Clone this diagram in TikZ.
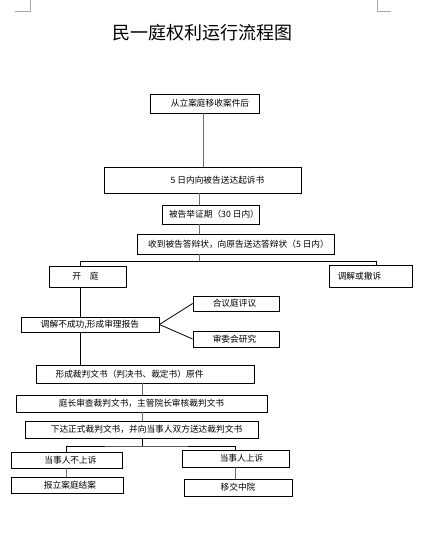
\documentclass[tikz,border=0pt]{standalone}
\usepackage{fontspec}
\newfontfamily\cjk{Noto Sans CJK SC}
\begin{document}
\begin{tikzpicture}[x=1pt,y=1pt,
  box/.style={draw=black, line width=0.8pt, inner sep=0pt, font=\cjk\fontsize{8.7}{10}\selectfont},
  link/.style={draw=black, line width=0.8pt},
  glink/.style={draw=gray!85!black, line width=0.9pt},
  mark/.style={draw=gray!70, line width=0.6pt}]
\useasboundingbox (0,0) rectangle (441,-538);
% corner marks
\draw[gray!70, line width=0.6pt] (15,-11) -- (30,-11) -- (30,0);
\draw[gray!70, line width=0.6pt] (377,0) -- (377,-11) -- (391,-11);
% title
\node[font=\cjk\fontsize{18}{20}\selectfont, inner sep=0pt] (title) at (202.5,-33) {民一庭权利运行流程图};
% boxes
\node[box, minimum width=109pt, minimum height=19pt] (b1) at (204.5,-103.5) {\hspace*{11pt}从立案庭移收案件后};
\node[box, minimum width=197pt, minimum height=26pt] (b2) at (202.5,-180) {\hspace*{30pt}5 日内向被告送达起诉书};
\node[box, minimum width=97pt, minimum height=19pt] (b3) at (210.5,-214.5) {\hspace*{7pt}被告举证期（30 日内）};
\node[box, minimum width=197pt, minimum height=20pt] (b4) at (235.5,-244) {\hspace*{6pt}收到被告答辩状，向原告送达答辩状（5 日内）};
\node[box, minimum width=77pt, minimum height=21pt] (kt) at (87.5,-276.5) {开\hspace{9pt}庭\hspace*{4pt}};
\node[box, minimum width=83pt, minimum height=22pt] (cs) at (370.5,-276) {调解或撤诉\hspace*{22pt}};
\node[box, minimum width=138pt, minimum height=15pt] (tj) at (90,-324.5) {调解不成功,形成审理报告};
\node[box, minimum width=86pt, minimum height=15pt] (hy) at (236,-303.5) {合议庭评议\hspace*{3pt}};
\node[box, minimum width=86pt, minimum height=16pt] (sw) at (236,-339) {审委会研究\hspace*{3pt}};
\node[box, minimum width=218pt, minimum height=18pt] (xc) at (145,-374) {形成裁判文书（判决书、裁定书）原件\hspace*{31pt}};
\node[box, minimum width=251pt, minimum height=17pt] (tz) at (141.5,-403.5) {庭长审查裁判文书，主管院长审核裁判文书};
\node[box, minimum width=233pt, minimum height=17pt] (xd) at (141.5,-429.5) {\hspace*{10pt}下达正式裁判文书，并向当事人双方送达裁判文书};
\node[box, minimum width=111pt, minimum height=16pt] (dsn) at (66.5,-460) {\hspace*{8pt}当事人不上诉};
\node[box, minimum width=107pt, minimum height=17pt] (dss) at (235.5,-458.5) {\hspace*{12pt}当事人上诉};
\node[box, minimum width=112pt, minimum height=16pt] (bl) at (67,-485) {\hspace*{6pt}报立案庭结案};
\node[box, minimum width=108pt, minimum height=17pt] (yj) at (238,-487.5) {移交中院};
% helper coordinates
\coordinate (sp) at (199,0);
\coordinate (lx) at (80,0);
\coordinate (rx) at (376,0);
\coordinate (mx) at (142,0);
\coordinate (j1) at (199,-261);
\coordinate (j2) at (142,-446);
% connectors
\draw[glink] (b1.south -| 203,0) -- (b2.north -| 203,0);
\draw[glink] (sp |- b2.south) -- (sp |- b3.north);
\draw[glink] (sp |- b3.south) -- (sp |- b4.north);
\draw[glink] (sp |- b4.south) -- (j1);
\draw[link] (lx |- kt.north) -- (lx |- j1) -- (rx |- j1) -- (rx |- cs.north);
\draw[link] (lx |- kt.south) -- (lx |- tj.north);
\draw[link] (tj.east) -- (hy.west);
\draw[link] (tj.east) -- (sw.west);
\draw[link] (lx |- tj.south) -- (lx |- xc.north);
\draw[glink] (mx |- xc.south) -- (mx |- tz.north);
\draw[glink] (mx |- tz.south) -- (mx |- xd.north);
\draw[link] (mx |- xd.south) -- (j2);
\draw[link] (dsn.north) |- (j2) -| (dss.north);
\draw[glink] (dsn.south) -- (dsn.south |- bl.north);
\draw[glink] (dss.south) -- (dss.south |- yj.north);
\end{tikzpicture}
\end{document}
